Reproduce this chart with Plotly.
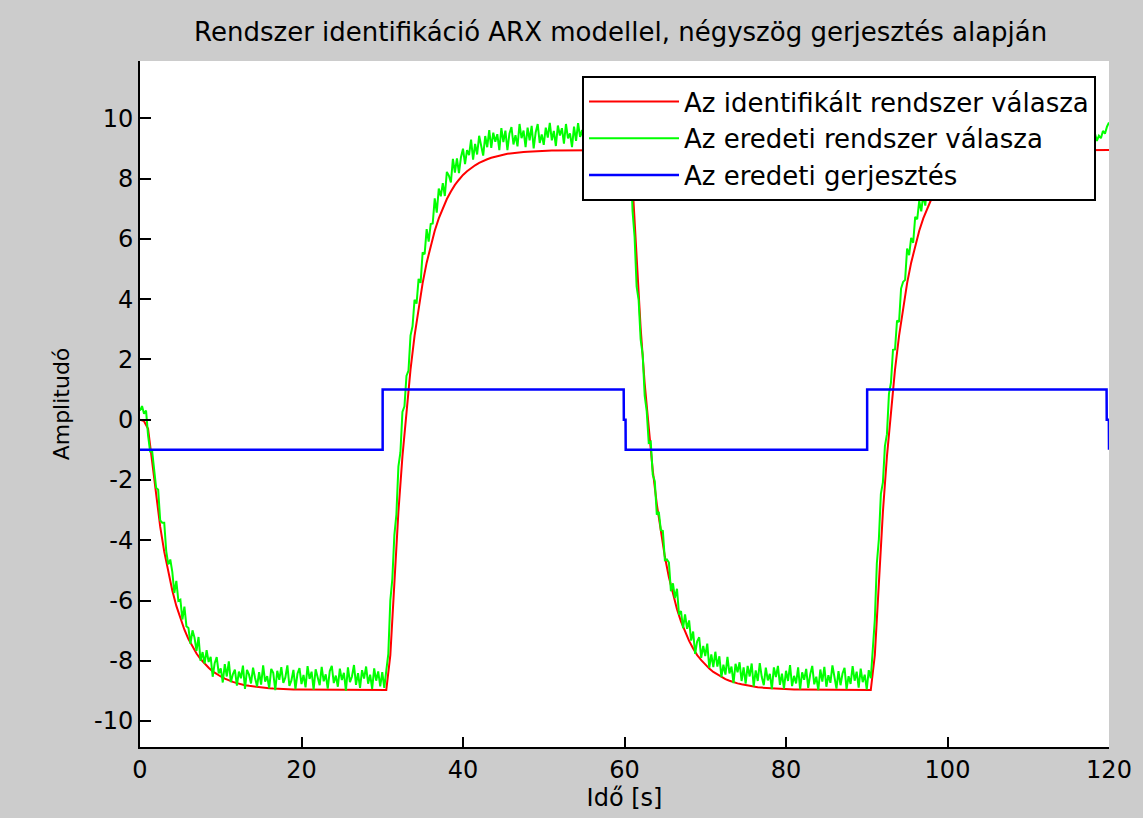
import numpy as np
import plotly.graph_objects as go

# ---------------- data ----------------
# time grids
t_red = np.linspace(0, 120, 241)    # 0.5 s
t_green = np.linspace(0, 120, 481)  # 0.25 s

# identified (ARX) model response
red_vals = [
    0.00, -0.05, -0.30, -1.45, -2.58, -3.55, -4.38, -5.08, -5.67, -6.18, -6.61, -6.97, -7.28, -7.54, -7.76, -7.94,
    -8.10, -8.23, -8.35, -8.44, -8.52, -8.59, -8.65, -8.70, -8.74, -8.78, -8.81, -8.83, -8.85, -8.87, -8.89,
    -8.90, -8.91, -8.92, -8.93, -8.94, -8.94, -8.95, -8.95, -8.95, -8.95, -8.95, -8.95,
    -8.96, -8.96, -8.96, -8.96, -8.96, -8.96, -8.96, -8.96, -8.96, -8.96,
    -8.97, -8.97, -8.97, -8.97, -8.97, -8.97, -8.97, -8.97, -8.97,
    -7.81, -5.24, -3.06, -1.22, 0.34, 1.66, 2.78, 3.73, 4.53, 5.21, 5.78, 6.27, 6.68, 7.03, 7.32, 7.57, 7.79,
    7.96, 8.12, 8.24, 8.35, 8.44, 8.52, 8.59, 8.64, 8.69, 8.73, 8.76, 8.79,
    8.82, 8.84, 8.86, 8.87, 8.88, 8.89, 8.90, 8.91, 8.91, 8.92, 8.93, 8.93, 8.93, 8.93,
    8.94, 8.94, 8.94, 8.94, 8.94, 8.94, 8.95, 8.95, 8.95, 8.95, 8.95, 8.95, 8.95, 8.95, 8.95, 8.95, 8.95,
    7.79, 5.22, 3.04, 1.20, -0.36, -1.68, -2.80, -3.75, -4.55, -5.23, -5.80, -6.29, -6.70, -7.05, -7.34, -7.59,
    -7.81, -7.98, -8.13, -8.26, -8.37, -8.46, -8.54, -8.61, -8.66, -8.71, -8.75, -8.78, -8.81,
    -8.84, -8.86, -8.88, -8.89, -8.90, -8.91, -8.92, -8.93, -8.93, -8.94, -8.95, -8.95, -8.95, -8.95,
    -8.96, -8.96, -8.96, -8.96, -8.96, -8.96, -8.96, -8.96,
    -8.97, -8.97, -8.97, -8.97, -8.97, -8.97, -8.97, -8.97, -8.97,
    -7.81, -5.24, -3.06, -1.22, 0.34, 1.66, 2.78, 3.73, 4.53, 5.21, 5.78, 6.27, 6.68, 7.03, 7.32, 7.57, 7.79,
    7.96, 8.12, 8.24, 8.35, 8.44, 8.52, 8.59, 8.64, 8.69, 8.73, 8.76, 8.79,
    8.82, 8.84, 8.86, 8.87, 8.88, 8.89, 8.90, 8.91, 8.91, 8.92, 8.93, 8.93, 8.93, 8.93,
    8.94, 8.94, 8.94, 8.94, 8.94, 8.94, 8.95, 8.95, 8.95, 8.95, 8.95, 8.95, 8.95, 8.95, 8.95, 8.95,
]

# measured (original) system response, noisy
green_vals = [
    # 0 .. 9.75
    0.30, 0.45, 0.20, 0.30, -0.52, -1.05, -1.03, -1.64, -2.26, -2.32, -3.34, -3.42, -3.42, -4.36, -4.80, -4.64,
    -5.05, -5.75, -5.35, -6.01, -5.97, -6.63, -6.20, -6.85, -6.91, -7.44, -6.99, -7.23, -7.67, -7.21, -8.00, -7.71,
    -8.09, -7.65, -8.04, -7.87, -8.53, -8.08, -7.88, -8.42,
    # 10 .. 29.75
    -8.25, -8.72, -8.11, -8.52, -8.02, -8.71, -8.45, -8.29, -8.82, -8.36, -8.58, -8.16, -8.93, -8.30, -8.46, -8.75,
    -8.23, -8.57, -8.85, -8.38, -8.79, -8.15, -8.69, -8.51, -8.91, -8.27, -8.40, -8.97, -8.33, -8.63, -8.21, -8.73,
    -8.55, -8.15, -8.83, -8.65, -8.30, -8.94, -8.43, -8.24, -8.77, -8.47, -8.88, -8.18, -8.60, -8.36, -8.96, -8.28,
    -8.53, -8.81, -8.20, -8.68, -8.45, -8.92, -8.34, -8.17, -8.74, -8.49, -8.86, -8.26, -8.64, -8.40, -8.99, -8.22,
    -8.71, -8.52, -8.14, -8.80, -8.41, -8.90, -8.31, -8.59, -8.19, -8.76, -8.46, -8.93, -8.25, -8.66, -8.35, -8.85,
    # 30 .. 44.75
    -8.38, -8.90, -8.33, -7.77, -5.99, -5.28, -3.83, -3.15, -1.56, -1.08, 0.26, 0.44, 1.45, 1.63, 2.79, 3.10,
    3.98, 3.85, 4.67, 4.54, 5.55, 5.49, 6.32, 5.91, 6.49, 6.51, 7.34, 6.87, 7.67, 7.41, 7.85, 7.42,
    8.22, 8.10, 7.87, 8.65, 8.20, 8.67, 8.18, 8.71, 8.99, 8.48, 8.94, 8.78, 9.29, 8.63, 9.15, 8.80,
    9.42, 9.12, 8.76, 9.41, 9.04, 9.61, 9.02, 9.52, 9.22, 9.47, 8.94, 9.67,
    # 45 .. 60.5
    9.21, 9.59, 8.94, 9.49, 9.71, 9.13, 9.44, 9.07, 9.81, 9.34, 9.59, 9.04, 9.69, 9.27, 9.75, 9.00,
    9.53, 9.81, 9.18, 9.46, 9.12, 9.69, 9.36, 9.85, 9.27, 9.58, 9.08, 9.76, 9.43, 9.67, 9.16, 9.81,
    9.33, 9.50, 9.04, 9.72, 9.25, 9.84, 9.38, 9.61, 9.11, 9.74, 9.30, 9.53, 9.07, 9.79, 9.21, 9.57,
    9.42, 9.86, 9.15, 9.65, 9.28, 9.49, 9.06, 9.71, 9.35, 9.80, 9.18, 9.59, 9.24, 9.75, 9.39,
    # 60.75 .. 74.75
    8.75, 6.91, 6.06, 4.42, 3.97, 2.66, 2.16, 0.80, 0.28, -0.77, -0.73, -1.83, -2.04, -3.15, -3.06, -3.67,
    -3.69, -4.66, -4.64, -4.74, -5.69, -5.43, -5.92, -5.61, -6.47, -6.35, -6.92, -6.46, -6.94, -6.66, -7.33, -7.03,
    -7.77, -7.35, -7.22, -7.90, -7.51, -7.84, -7.43, -8.23, -7.79, -8.21, -7.70, -8.19, -7.85, -8.54, -8.13, -8.46,
    -7.87, -8.42, -8.19, -8.74, -8.10, -8.38, -8.05, -8.67, -8.22,
    # 75 .. 90.5
    -8.76, -8.17, -8.52, -8.09, -8.85, -8.32, -8.67, -8.08, -8.54, -8.81, -8.23, -8.65, -8.43, -8.94, -8.22, -8.54,
    -8.17, -8.80, -8.43, -8.92, -8.33, -8.67, -8.14, -8.84, -8.50, -8.75, -8.22, -8.95, -8.38, -8.63, -8.27, -8.90,
    -8.45, -8.17, -8.78, -8.53, -8.97, -8.29, -8.69, -8.20, -8.86, -8.48, -8.73, -8.15, -8.60, -8.92, -8.34, -8.81,
    -8.42, -8.23, -8.94, -8.51, -8.77, -8.18, -8.66, -8.36, -8.89, -8.26, -8.71, -8.46, -8.95, -8.31, -8.58,
    # 90.75 .. 104.75
    -7.55, -6.63, -4.77, -3.97, -2.46, -2.08, -0.88, -0.48, 0.86, 1.23, 2.32, 2.33, 3.29, 3.24, 4.35, 4.57,
    4.64, 5.68, 5.46, 6.03, 5.87, 6.73, 6.65, 7.26, 6.91, 7.47, 7.10, 7.93, 7.68, 8.32, 7.79, 8.23,
    7.94, 8.57, 8.40, 8.86, 8.32, 8.85, 8.36, 8.89, 9.14, 8.69, 9.35, 8.82, 9.25, 8.72, 9.16, 9.46,
    8.88, 9.29, 8.78, 9.52, 9.15, 9.46, 8.92, 9.66, 9.17,
    # 105 .. 120
    9.59, 9.14, 9.38, 9.72, 9.06, 9.51, 9.28, 9.79, 9.03, 9.61, 9.27, 9.73, 9.17, 9.47, 9.00, 9.70,
    9.38, 9.62, 9.13, 9.84, 9.28, 9.55, 9.07, 9.70, 9.43, 9.79, 9.18, 9.58, 9.10, 9.66, 9.34, 9.84,
    9.23, 9.52, 9.04, 9.75, 9.37, 9.63, 9.12, 9.81, 9.31, 9.47, 9.06, 9.72, 9.25, 9.77, 9.39, 9.61,
    9.15, 9.69, 9.33, 9.83, 9.20, 9.50, 9.25, 9.42, 9.34, 9.58, 9.49, 9.72, 9.86,
]

# square-wave excitation (breakpoints)
u_t = [0.0, 30.05, 30.05, 59.9, 59.92, 60.13, 60.15, 90.05, 90.05, 119.7, 119.72, 119.98, 120.0]
u_vals = [-1, -1, 1, 1, 0, 0, -1, -1, 1, 1, 0, 0, -1]

legend_names = ["Az identifikált rendszer válasza",
                "Az eredeti rendszer válasza",
                "Az eredeti gerjesztés"]
x_ticks = [0, 20, 40, 60, 80, 100, 120]
y_ticks = [-10, -8, -6, -4, -2, 0, 2, 4, 6, 8, 10]
x_tick_labels = ["0", "20", "40", "60", "80", "100", "120"]
y_tick_labels = ["-10", "-8", "-6", "-4", "-2", "0", "2", "4", "6", "8", "10"]

# ---------------- figure ----------------
FONT = "DejaVu Sans"
fig = go.Figure()
fig.add_trace(go.Scatter(x=t_red, y=red_vals, mode="lines", name=legend_names[0],
                         line=dict(color="#ff0000", width=2)))
fig.add_trace(go.Scatter(x=t_green, y=green_vals, mode="lines", name=legend_names[1],
                         line=dict(color="#00ff00", width=2)))
fig.add_trace(go.Scatter(x=u_t, y=u_vals, mode="lines", name=legend_names[2],
                         line=dict(color="#0000ff", width=2.5)))

fig.update_layout(
    width=1143, height=818,
    margin=dict(l=140, r=34, t=61, b=71),
    paper_bgcolor="#cccccc",
    plot_bgcolor="#ffffff",
    font=dict(family=FONT, size=24, color="#000000"),
    title=dict(text="Rendszer identifikáció ARX modellel, négyszög gerjesztés alapján",
               x=0.543, xanchor="center", y=1 - 32 / 818, yanchor="middle",
               font=dict(family=FONT, size=26, color="#000000")),
    showlegend=True,
    legend=dict(x=0.9866, y=0.978, xanchor="right", yanchor="top",
                bgcolor="#ffffff", bordercolor="#000000", borderwidth=2,
                font=dict(family=FONT, size=26, color="#000000"),
                itemwidth=90, tracegroupgap=0),
)
fig.update_xaxes(range=[0, 120], tickvals=x_ticks, ticktext=x_tick_labels,
                 ticks="inside", ticklen=10, tickwidth=2,
                 tickcolor="#000000", showline=True, linecolor="#000000", linewidth=2,
                 showgrid=False, zeroline=False, mirror=False,
                 title=dict(text="Idő [s]", standoff=4, font=dict(family=FONT, size=24)),
                 tickfont=dict(family=FONT, size=24, color="#000000"))
fig.update_yaxes(range=[-10.86, 11.9], tickvals=y_ticks, ticktext=y_tick_labels,
                 ticks="inside", ticklen=11, tickwidth=2,
                 tickcolor="#000000", showline=True, linecolor="#000000", linewidth=2,
                 showgrid=False, zeroline=False, mirror=False,
                 title=dict(text="Amplitudó", standoff=18, font=dict(family=FONT, size=22)),
                 tickfont=dict(family=FONT, size=24, color="#000000"))

fig.write_html("out.html")
